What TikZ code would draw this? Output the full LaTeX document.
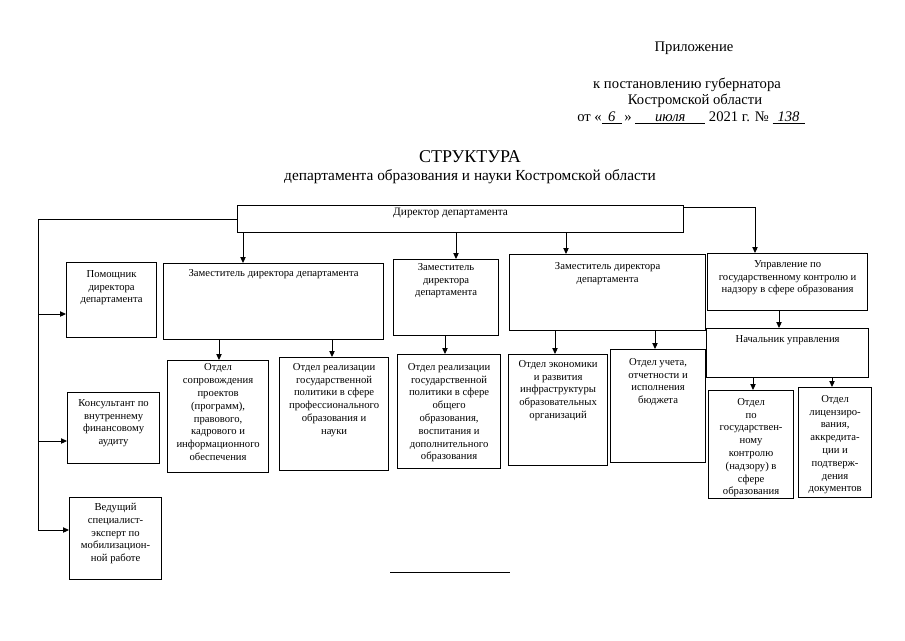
\documentclass[tikz,border=0pt]{standalone}
\usepackage{fontspec}
\setmainfont{Liberation Serif}
\usetikzlibrary{arrows.meta}
\newlength\pxu \setlength\pxu{0.75pt}
\tikzset{
 bx/.style={draw, line width=0.9pt, inner sep=0pt, anchor=north west},
 tx/.style={anchor=north, inner sep=0pt, align=center, font=\fontsize{8}{9.6}\selectfont},
 arr/.style={-{Triangle[length=4.5pt,width=4pt]}, line width=0.7pt},
 ln/.style={line width=0.7pt},
 hd/.style={inner sep=0pt, font=\fontsize{11}{13}\selectfont},
}
\newcommand\bx[7]{%
 \node[bx, minimum width=#4\pxu, minimum height=#5\pxu] (#1) at (#2,#3) {};
 \node[tx] (#1t) at ([yshift=-#6\pxu]#1.north) {#7};}
\begin{document}
\begin{tikzpicture}[x=0.75pt,y=-0.75pt]
\fill[white] (0,0) rectangle (905,640);
\useasboundingbox (0,0) rectangle (905,640);
% header
\node[hd] (h1) at (694,48) {Приложение};
\node[hd] (h2) at (687,85) {к постановлению губернатора};
\node[hd] (h3) at (695,101) {Костромской области};
\node[hd, anchor=west] (h4) at (577,118) {от «\underline{\makebox[20\pxu]{\textit{6}}}\,» \underline{\makebox[70\pxu]{\textit{июля}}} 2021 г. № \underline{\makebox[32\pxu]{\textit{138}}}};
\node[inner sep=0pt, font=\fontsize{13.5}{16}\selectfont] (title) at (470,157) {СТРУКТУРА};
\node[hd, font=\fontsize{11.5}{14}\selectfont] (sub) at (470,177) {департамента образования и науки Костромской области};
% director
\node[bx, minimum width=446\pxu, minimum height=27\pxu] (dir) at (237,205) {};
\node[tx, font=\fontsize{8.5}{10}\selectfont] (dirt) at ([xshift=-10\pxu,yshift=-3\pxu]dir.north) {Директор департамента};
% left column
\bx{pom}{66}{262}{90}{75}{8}{Помощник\\директора\\департамента}
\bx{kons}{67}{392}{92}{71}{7}{Консультант по\\внутреннему\\финансовому\\аудиту}
\bx{ved}{69}{497}{92}{82}{6}{Ведущий\\специалист-\\эксперт по\\мобилизацион-\\ной работе}
% deputies
\bx{z1}{163}{263}{220}{76}{6}{Заместитель директора департамента}
\bx{z2}{393}{259}{105}{76}{4}{Заместитель\\директора\\департамента}
\bx{z3}{509}{254}{196}{76}{8}{Заместитель директора\\департамента}
\bx{upr}{707}{253}{160}{57}{7}{Управление по\\государственному контролю и\\надзору в сфере образования}
\bx{nach}{706}{328}{162}{49}{7}{Начальник управления}
% departments
\bx{o1}{167}{360}{101}{112}{3.5}{Отдел\\сопровождения\\проектов\\(программ),\\правового,\\кадрового и\\информационного\\обеспечения}
\bx{o2}{279}{357}{109}{113}{6}{Отдел реализации\\государственной\\политики в сфере\\профессионального\\образования и\\науки}
\bx{o3}{397}{354}{103}{114}{9}{Отдел реализации\\государственной\\политики в сфере\\общего\\образования,\\воспитания и\\дополнительного\\образования}
\bx{o4}{508}{354}{99}{111}{6}{Отдел экономики\\и развития\\инфраструктуры\\образовательных\\организаций}
\bx{o5}{610}{349}{95}{113}{9}{Отдел учета,\\отчетности и\\исполнения\\бюджета}
\bx{o6}{708}{390}{85}{108}{8}{Отдел\\по\\государствен-\\ному\\контролю\\(надзору) в\\сфере\\образования}
\bx{o7}{798}{387}{73}{110}{8}{Отдел\\лицензиро-\\вания,\\аккредита-\\ции и\\подтверж-\\дения\\документов}
% connector coordinates
\coordinate (c1) at (243,0);
\coordinate (c2) at (456,0);
\coordinate (c3) at (566,0);
\coordinate (c4) at (219,0);
\coordinate (c5) at (332,0);
\coordinate (c6) at (445,0);
\coordinate (c7) at (555,0);
\coordinate (c8) at (655,0);
\coordinate (c9) at (779,0);
\coordinate (c10) at (753,0);
\coordinate (c11) at (832,0);
\coordinate (rt) at (755,207);
\coordinate (lt) at (38,219);
\coordinate (lb) at (38,530);
\coordinate (l1) at (38,314);
\coordinate (l2) at (38,441);
% connectors
\draw[arr] (dir.south -| c1) -- (z1.north -| c1);
\draw[arr] (dir.south -| c2) -- (z2.north -| c2);
\draw[arr] (dir.south -| c3) -- (z3.north -| c3);
\draw[arr] (dir.east |- rt) -- (rt) -- (upr.north -| rt);
\draw[arr] (dir.west |- lt) -- (lt) -- (lb) -- (lb -| ved.west);
\draw[arr] (l1) -- (l1 -| pom.west);
\draw[arr] (l2) -- (l2 -| kons.west);
\draw[arr] (z1.south -| c4) -- (o1.north -| c4);
\draw[arr] (z1.south -| c5) -- (o2.north -| c5);
\draw[arr] (z2.south -| c6) -- (o3.north -| c6);
\draw[arr] (z3.south -| c7) -- (o4.north -| c7);
\draw[arr] (z3.south -| c8) -- (o5.north -| c8);
\draw[arr] (upr.south -| c9) -- (nach.north -| c9);
\draw[arr] (nach.south -| c10) -- (o6.north -| c10);
\draw[arr] (nach.south -| c11) -- (o7.north -| c11);
% footer rule
\draw[ln] (390,572) -- (510,572);
\end{tikzpicture}
\end{document}
